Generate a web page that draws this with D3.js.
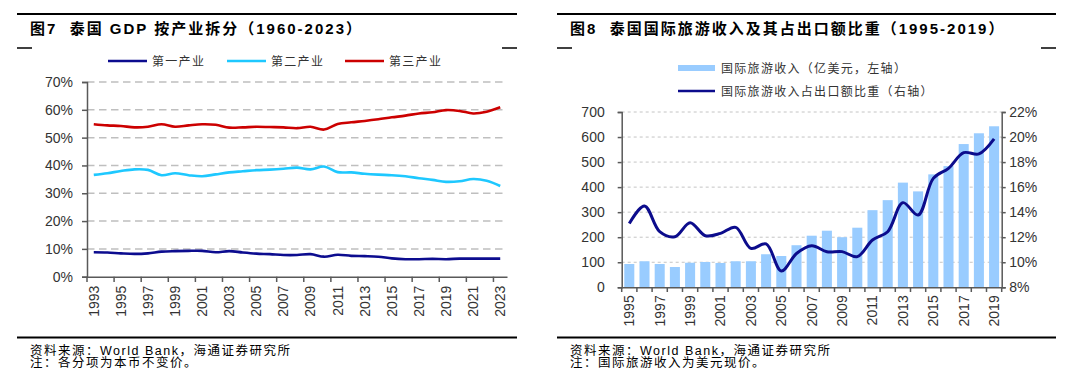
<!DOCTYPE html>
<html>
<head>
<meta charset="utf-8">
<script src="https://cdn.jsdelivr.net/npm/d3@7"></script>
<style>
body { margin: 0; background: #fff; }
svg { font-family: "Liberation Sans", Arial, "Noto Sans CJK SC", sans-serif; }
.cn { font-family: "Liberation Sans", "Noto Sans CJK SC", sans-serif; }
</style>
</head>
<body>
<div id="chart-area"></div>
<script>
// ---- data: 图7 ----
var years1 = [1993,1994,1995,1996,1997,1998,1999,2000,2001,2002,2003,2004,2005,2006,2007,2008,
  2009,2010,2011,2012,2013,2014,2015,2016,2017,2018,2019,2020,2021,2022,2023];
var primary = [8.8,8.7,8.4,8.2,8.4,9.0,9.2,9.3,9.3,8.8,9.2,8.7,8.3,8.1,7.8,7.8,
  8.1,7.2,7.9,7.5,7.4,7.2,6.6,6.3,6.3,6.4,6.3,6.5,6.5,6.5,6.5];
var secondary = [36.6,37.2,38.0,38.6,38.4,36.5,37.2,36.5,36.1,36.8,37.5,37.9,38.3,38.5,38.8,39.2,
  38.6,39.6,37.6,37.5,37.0,36.7,36.5,36.1,35.4,34.8,34.1,34.3,35.1,34.5,32.6];
var tertiary = [54.8,54.4,54.2,53.7,53.9,54.8,53.9,54.4,54.8,54.6,53.6,53.7,53.9,53.8,53.7,53.4,
  53.9,52.9,54.9,55.5,56.0,56.6,57.3,57.9,58.7,59.1,59.9,59.6,58.7,59.3,60.9];
var seriesNames1 = ["第一产业", "第二产业", "第三产业"];
var yTicks1 = [0,10,20,30,40,50,60,70];

// ---- data: 图8 ----
var years2 = [1995,1996,1997,1998,1999,2000,2001,2002,2003,2004,2005,2006,2007,
  2008,2009,2010,2011,2012,2013,2014,2015,2016,2017,2018,2019];
var tourism = [93,104,93,81,98,101,97,104,104,132,125,168,206,226,200,238,308,348,418,383,451,484,572,615,643];
var share = [13.1,14.5,12.44,12.04,13.16,12.12,12.31,12.79,11.11,11.46,9.3,10.7,11.32,
  10.84,10.85,10.45,11.78,12.44,14.76,13.77,16.7,17.5,18.75,18.65,19.85];
var seriesNames2 = ["国际旅游收入（亿美元，左轴）", "国际旅游收入占出口额比重（右轴）"];
var yTicksL2 = [0,100,200,300,400,500,600,700];
var yTicksR2 = [8,10,12,14,16,18,20,22];

var svg = d3.select("#chart-area").append("svg")
  .attr("width", 1080).attr("height", 385);

var axisColor = "#595959", textColor = "#333";

// frame: rules, titles, footers
function frame(x0, x1, title, note) {
  svg.append("line").attr("x1", x0).attr("x2", x1).attr("y1", 14).attr("y2", 14)
    .attr("stroke", "#000").attr("stroke-width", 2);
  svg.append("line").attr("x1", x0).attr("x2", x0 + 15).attr("y1", 48).attr("y2", 48)
    .attr("stroke", "#000").attr("stroke-width", 1.5);
  svg.append("line").attr("x1", x1 - 15).attr("x2", x1).attr("y1", 48).attr("y2", 48)
    .attr("stroke", "#000").attr("stroke-width", 1.5);
  svg.append("line").attr("x1", x0).attr("x2", x1).attr("y1", 337.5).attr("y2", 337.5)
    .attr("stroke", "#000").attr("stroke-width", 2);
  svg.append("text").attr("class", "cn").attr("x", x0 + 13).attr("y", 34)
    .attr("font-size", "15px").attr("font-weight", "bold").style("letter-spacing", "2px")
    .style("white-space", "pre").attr("fill", "#000").text(title);
  svg.append("text").attr("class", "cn").attr("x", x0 + 13).attr("y", 354.5)
    .attr("font-size", "12.5px").style("letter-spacing", "1.5px").attr("fill", "#000")
    .text("资料来源：World Bank，海通证券研究所");
  svg.append("text").attr("class", "cn").attr("x", x0 + 13).attr("y", 367)
    .attr("font-size", "12.5px").style("letter-spacing", "1.5px").attr("fill", "#000")
    .text(note);
}
frame(17, 517, "图7  泰国 GDP 按产业拆分（1960-2023）", "注：各分项为本币不变价。");
frame(557, 1056, "图8  泰国国际旅游收入及其占出口额比重（1995-2019）", "注：国际旅游收入为美元现价。");

function styleAxis(g) {
  g.select(".domain").attr("stroke", axisColor).attr("stroke-width", 1.5);
  g.selectAll(".tick line").attr("stroke", axisColor).attr("stroke-width", 1.5);
  g.selectAll("text").attr("fill", textColor).attr("font-size", "14px");
}

// ================= 图7 =================
var colors1 = ["#0c0c8f", "#1ec8ff", "#cc0000"];
var x1 = d3.scaleBand().domain(years1).range([87, 507]);
var y1 = d3.scaleLinear().domain([0, 70]).range([276.7, 82]);

var g1 = svg.append("g");
g1.selectAll(".grid").data(yTicks1.filter(function(d){ return d > 0; })).enter().append("line")
  .attr("x1", 87).attr("x2", 507)
  .attr("y1", function(d){ return y1(d); }).attr("y2", function(d){ return y1(d); })
  .attr("stroke", "#bfbfbf").attr("stroke-width", 1.5).attr("stroke-dasharray", "7.5,4.5");

var line1 = d3.line()
  .x(function(d, i){ return x1(years1[i]) + x1.bandwidth() / 2; })
  .y(function(d){ return y1(d); })
  .curve(d3.curveCatmullRom);
[primary, secondary, tertiary].forEach(function(s, k) {
  g1.append("path").datum(s).attr("d", line1).attr("fill", "none")
    .attr("stroke", colors1[k]).attr("stroke-width", 2.6);
});

var yAxis1 = g1.append("g").attr("transform", "translate(87,0)")
  .call(d3.axisLeft(y1).tickValues(yTicks1).tickSize(5).tickPadding(9)
    .tickFormat(function(d){ return d + "%"; }));
styleAxis(yAxis1);

var xAxis1 = g1.append("g").attr("transform", "translate(0,276.7)")
  .call(d3.axisBottom(x1).tickValues(years1.filter(function(d, i){ return i % 2 === 0; }))
    .tickSize(0).tickSizeOuter(0));
styleAxis(xAxis1);
xAxis1.selectAll("text").attr("transform", "rotate(-90)").attr("text-anchor", "end")
  .attr("x", -9).attr("y", 0).attr("dy", "0.35em");
// ticks on category boundaries every 2 years
g1.selectAll(".xt").data(years1.filter(function(d, i){ return i % 2 === 0; })).enter().append("line")
  .attr("x1", function(d){ return x1(d); }).attr("x2", function(d){ return x1(d); })
  .attr("y1", 276.7).attr("y2", 282).attr("stroke", axisColor).attr("stroke-width", 1.5);

// legend
var leg1x = [108, 227, 345];
seriesNames1.forEach(function(n, k) {
  svg.append("line").attr("x1", leg1x[k]).attr("x2", leg1x[k] + 39).attr("y1", 61).attr("y2", 61)
    .attr("stroke", colors1[k]).attr("stroke-width", 2.6);
  svg.append("text").attr("class", "cn").attr("x", leg1x[k] + 44).attr("y", 65.5)
    .attr("font-size", "12px").style("letter-spacing", "1.3px").attr("fill", textColor).text(n);
});

// ================= 图8 =================
var barColor = "#99ccff", lineColor = "#0c0c8c";
var x2 = d3.scaleBand().domain(years2).range([621.7, 1001.7]).paddingInner(0.34).paddingOuter(0.17);
var xc = d3.scaleBand().domain(years2).range([621.7, 1001.7]);
var yL = d3.scaleLinear().domain([0, 700]).range([287.3, 112]);
var yR = d3.scaleLinear().domain([8, 22]).range([287.3, 112]);

var g2 = svg.append("g");
g2.selectAll(".grid").data(yTicksL2.filter(function(d){ return d > 0; })).enter().append("line")
  .attr("x1", 621.7).attr("x2", 1001.7)
  .attr("y1", function(d){ return yL(d); }).attr("y2", function(d){ return yL(d); })
  .attr("stroke", "#c4c4c4").attr("stroke-width", 1).attr("stroke-dasharray", "3,3");

g2.selectAll("rect").data(tourism).enter().append("rect")
  .attr("x", function(d, i){ return x2(years2[i]); })
  .attr("y", function(d){ return yL(d); })
  .attr("width", x2.bandwidth())
  .attr("height", function(d){ return yL(0) - yL(d); })
  .attr("fill", barColor);

var line2 = d3.line()
  .x(function(d, i){ return xc(years2[i]) + xc.bandwidth() / 2; })
  .y(function(d){ return yR(d); })
  .curve(d3.curveCatmullRom);
g2.append("path").datum(share).attr("d", line2).attr("fill", "none")
  .attr("stroke", lineColor).attr("stroke-width", 3);

var yAxisL2 = g2.append("g").attr("transform", "translate(621.7,0)")
  .call(d3.axisLeft(yL).tickValues(yTicksL2).tickSize(4).tickPadding(13));
styleAxis(yAxisL2);
var yAxisR2 = g2.append("g").attr("transform", "translate(1001.7,0)")
  .call(d3.axisRight(yR).tickValues(yTicksR2).tickSize(4).tickPadding(3.5)
    .tickFormat(function(d){ return d + "%"; }));
styleAxis(yAxisR2);

var xAxis2 = g2.append("g").attr("transform", "translate(0,287.3)")
  .call(d3.axisBottom(xc).tickValues(years2.filter(function(d, i){ return i % 2 === 0; }))
    .tickSize(0).tickSizeOuter(0));
styleAxis(xAxis2);
xAxis2.selectAll("text").attr("transform", "rotate(-90)").attr("text-anchor", "end")
  .attr("x", -8).attr("y", 0).attr("dy", "0.35em");
g2.selectAll(".xt").data(years2.concat(["end"])).enter().append("line")
  .attr("x1", function(d){ return d === "end" ? 1001.7 : xc(d); })
  .attr("x2", function(d){ return d === "end" ? 1001.7 : xc(d); })
  .attr("y1", 287.3).attr("y2", 292).attr("stroke", axisColor).attr("stroke-width", 1.5);

// legend
svg.append("rect").attr("x", 678).attr("y", 65).attr("width", 37).attr("height", 6).attr("fill", barColor);
svg.append("line").attr("x1", 678).attr("x2", 715).attr("y1", 91).attr("y2", 91)
  .attr("stroke", lineColor).attr("stroke-width", 2.6);
[68, 91].forEach(function(yy, k) {
  svg.append("text").attr("class", "cn").attr("x", 721).attr("y", yy + 4.5)
    .attr("font-size", "12px").style("letter-spacing", "1.3px").attr("fill", textColor)
    .text(seriesNames2[k]);
});
</script>
</body>
</html>
